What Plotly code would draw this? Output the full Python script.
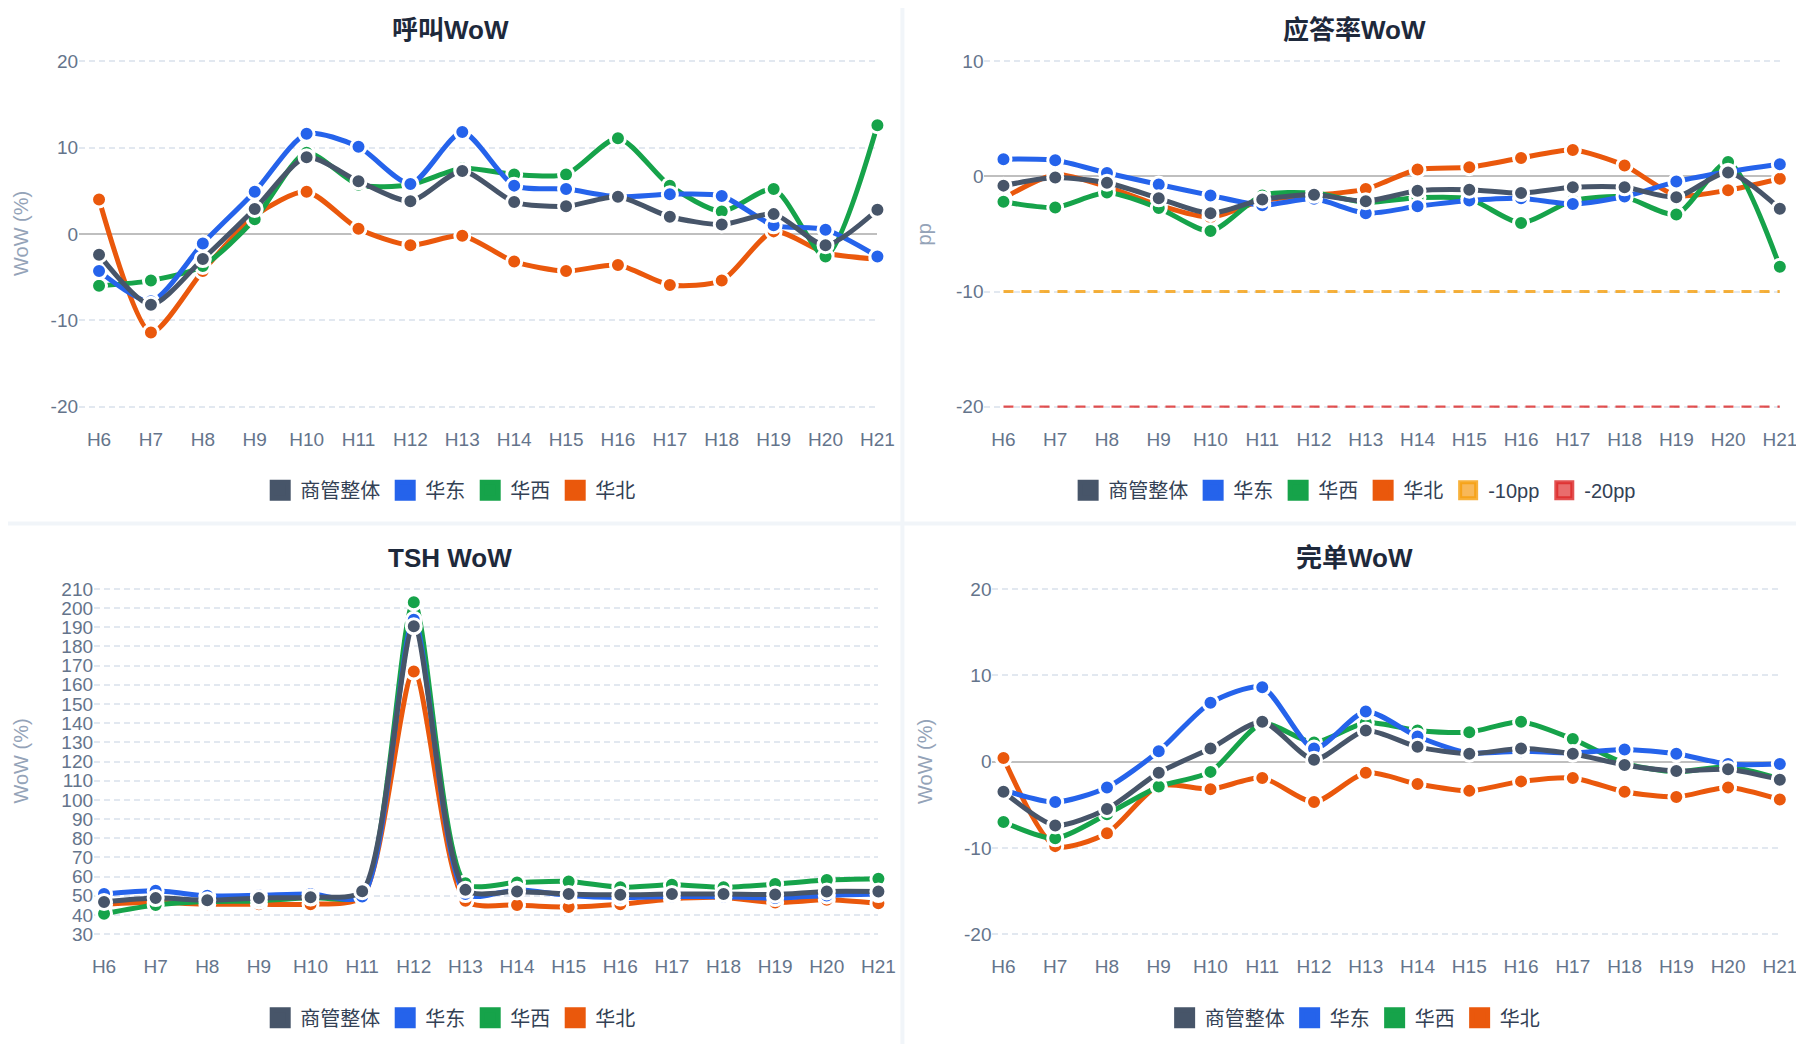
import plotly.graph_objects as go

W, H = 1804, 1044
# measured page placement of the figure: window px = offset + scale * figure px
OX, SX = 10.0, 0.989
OY, SY = 17.0, 0.979
FONT = "Liberation Sans, Noto Sans CJK SC, sans-serif"

hours = ["H6", "H7", "H8", "H9", "H10", "H11", "H12", "H13",
         "H14", "H15", "H16", "H17", "H18", "H19", "H20", "H21"]
series_names = ["商管整体", "华东", "华西", "华北"]
series_colors = ["#475569", "#2563eb", "#16a34a", "#ea580c"]

# 呼叫WoW (%)
call_total = [-2.4, -8.2, -2.9, 2.9, 8.9, 6.1, 3.8, 7.3, 3.7, 3.2, 4.3, 2.0, 1.1, 2.3, -1.3, 2.8]
call_east = [-4.3, -7.8, -1.1, 4.9, 11.6, 10.1, 5.8, 11.8, 5.6, 5.2, 4.3, 4.6, 4.4, 1.0, 0.5, -2.6]
call_west = [-6.0, -5.4, -3.7, 1.7, 9.4, 5.7, 5.7, 7.6, 6.9, 6.9, 11.1, 5.6, 2.6, 5.2, -2.6, 12.6]
call_north = [4.0, -11.4, -4.3, 2.1, 4.9, 0.6, -1.3, -0.2, -3.2, -4.3, -3.6, -5.9, -5.4, 0.3, -2.2, -2.9]
call_ticks = [-20, -10, 0, 10, 20]

# 应答率WoW (pp)
ans_total = [-0.8, -0.1, -0.55, -1.9, -3.2, -2.0, -1.6, -2.15, -1.25, -1.15, -1.45, -0.95, -0.95, -1.8, 0.35, -2.8]
ans_east = [1.5, 1.4, 0.3, -0.7, -1.65, -2.5, -1.95, -3.2, -2.6, -2.1, -1.9, -2.4, -1.75, -0.45, 0.4, 1.05]
ans_west = [-2.2, -2.7, -1.4, -2.75, -4.75, -1.65, -1.45, -2.25, -1.85, -1.95, -4.05, -2.1, -1.8, -3.3, 1.25, -7.85]
ans_north = [-1.9, 0.15, -0.9, -2.5, -3.55, -2.1, -1.65, -1.1, 0.6, 0.8, 1.6, 2.3, 0.95, -1.65, -1.2, -0.2]
ans_ticks = [-20, -10, 0, 10]
thresholds = [-10, -20]
threshold_names = ["-10pp", "-20pp"]

# TSH WoW (%)
tsh_total = [46.8, 48.8, 47.7, 48.8, 49.3, 52.4, 190.5, 53.1, 52.3, 51.0, 50.5, 50.9, 50.9, 50.7, 52.3, 52.3]
tsh_east = [50.9, 52.6, 50.0, 50.3, 50.9, 49.6, 193.9, 50.9, 53.1, 50.2, 49.1, 49.6, 49.5, 48.8, 50.2, 50.9]
tsh_west = [40.7, 45.2, 47.0, 47.4, 49.1, 50.5, 203.0, 56.5, 57.0, 57.5, 54.5, 55.8, 54.5, 56.1, 58.2, 58.9]
tsh_north = [45.6, 46.6, 45.6, 45.6, 45.6, 49.6, 166.9, 47.4, 45.2, 44.2, 45.6, 48.4, 49.1, 46.5, 47.9, 46.1]
tsh_ticks = [30, 40, 50, 60, 70, 80, 90, 100, 110, 120, 130, 140, 150, 160, 170, 180, 190, 200, 210]

# 完单WoW (%)
done_total = [-3.5, -7.4, -5.5, -1.3, 1.5, 4.6, 0.2, 3.6, 1.7, 0.9, 1.5, 0.9, -0.4, -1.1, -0.9, -2.1]
done_east = [-3.3, -4.7, -3.0, 1.2, 6.8, 8.6, 1.5, 5.8, 2.9, 1.0, 1.2, 1.0, 1.4, 0.9, -0.3, -0.3]
done_west = [-7.0, -8.9, -6.1, -2.9, -1.2, 4.4, 2.2, 4.5, 3.6, 3.4, 4.6, 2.6, -0.2, -1.2, -0.6, -2.0]
done_north = [0.4, -9.8, -8.3, -2.8, -3.2, -1.9, -4.7, -1.3, -2.6, -3.4, -2.3, -1.9, -3.5, -4.1, -3.0, -4.4]
done_ticks = [-20, -10, 0, 10, 20]


def fx(px):
    return (px - OX) / SX / W


def fy(py):
    return 1 - (py - OY) / SY / H


# panel boxes in window pixels: grid left, first point, last point / top tick, bottom tick
panels = [
    dict(title="呼叫WoW", ytitle="WoW (%)", data=[call_total, call_east, call_west, call_north],
         ticks=call_ticks, px=(79, 99, 877), py=(63, 406), cx=450, ty=32, ly=489, yt=21),
    dict(title="应答率WoW", ytitle="pp", data=[ans_total, ans_east, ans_west, ans_north],
         ticks=ans_ticks, px=(984, 1003, 1779), py=(63, 406), cx=1354, ty=32, ly=489, yt=924),
    dict(title="TSH WoW", ytitle="WoW (%)", data=[tsh_total, tsh_east, tsh_west, tsh_north],
         ticks=tsh_ticks, px=(94, 104, 878), py=(587, 930), cx=450, ty=556, ly=1013, yt=21),
    dict(title="完单WoW", ytitle="WoW (%)", data=[done_total, done_east, done_west, done_north],
         ticks=done_ticks, px=(992, 1003, 1779), py=(587, 930), cx=1354, ty=556, ly=1013, yt=924),
]

fig = go.Figure()
layout = {}
annotations = []
EDGE = 3  # px of room above/below the end ticks so their gridlines get drawn

for i, p in enumerate(panels):
    n = "" if i == 0 else str(i + 1)
    xa, ya, lg = "x" + n, "y" + n, "legend" + n
    g0, first, last = p["px"]
    step = (last - first) / (len(hours) - 1)
    top, bot = p["py"]
    t0, t1 = p["ticks"][0], p["ticks"][-1]
    pad = (t1 - t0) * EDGE / (bot - top)

    # lines, dark overall series drawn last so it sits on top
    for k in [3, 2, 1, 0]:
        fig.add_trace(go.Scatter(
            x=hours, y=p["data"][k], xaxis=xa, yaxis=ya,
            mode="lines+markers", name=series_names[k],
            legendgroup=lg + series_names[k], showlegend=False,
            line=dict(color=series_colors[k], width=5, shape="spline", smoothing=0.7),
            marker=dict(size=15, color=series_colors[k], line=dict(color="white", width=3)),
            cliponaxis=False,
        ))
    # legend entries (square icons)
    for k in range(4):
        fig.add_trace(go.Scatter(
            x=[None], y=[None], xaxis=xa, yaxis=ya, mode="markers",
            name=series_names[k], legend=lg, legendgroup=lg + series_names[k],
            marker=dict(symbol="square", size=16, color=series_colors[k],
                        line=dict(color=series_colors[k], width=5)),
        ))

    if i == 1:
        th_lines = ["rgba(245,158,11,0.8)", "rgba(220,38,38,0.8)"]
        th_fills = ["rgba(248,180,80,0.95)", "rgba(232,100,100,0.95)"]
        th_widths = [3, 2.2]
        for lvl, nm, c, fc, w in zip(thresholds, threshold_names, th_lines, th_fills, th_widths):
            fig.add_trace(go.Scatter(
                x=[hours[0], hours[-1]], y=[lvl, lvl], xaxis=xa, yaxis=ya,
                mode="lines", name=nm, legend=lg, legendgroup=lg + nm, showlegend=False,
                line=dict(color=c, width=w, dash="10px,8px"), hoverinfo="skip",
            ))
            fig.add_trace(go.Scatter(
                x=[None], y=[None], xaxis=xa, yaxis=ya, mode="markers",
                name=nm, legend=lg, legendgroup=lg + nm,
                marker=dict(symbol="square", size=16, color=fc, line=dict(color=c, width=4)),
            ))

    layout["xaxis" + n] = dict(
        domain=[fx(g0), fx(last)], anchor=ya, type="category",
        categoryorder="array", categoryarray=hours,
        range=[-(first - g0) / step, len(hours) - 1],
        showgrid=False, showline=False, zeroline=False, ticks="",
        ticklabelstandoff=19 - EDGE,
        tickfont=dict(family=FONT, size=19, color="#64748b"),
    )
    layout["yaxis" + n] = dict(
        domain=[fy(bot + EDGE), fy(top - EDGE)], anchor=xa,
        range=[t0 - pad, t1 + pad],
        tickmode="array", tickvals=p["ticks"], ticktext=[str(t) for t in p["ticks"]],
        showline=False, ticks="",
        gridcolor="#e2e8f0", griddash="6px,4px", gridwidth=1.5,
        zeroline=True, zerolinecolor="#bfbfbf", zerolinewidth=2,
        tickfont=dict(family=FONT, size=19, color="#64748b"),
    )
    layout[lg] = dict(
        orientation="h", x=fx(p["cx"]), xanchor="center",
        y=fy(p["ly"]), yanchor="middle",
        font=dict(family=FONT, size=20, color="#334155"),
        bgcolor="rgba(0,0,0,0)",
    )
    annotations.append(dict(
        text="<b>" + p["title"] + "</b>", xref="paper", yref="paper",
        x=fx(p["cx"]), y=fy(p["ty"]), showarrow=False,
        font=dict(family=FONT, size=26, color="#1e293b"),
        xanchor="center", yanchor="middle",
    ))
    annotations.append(dict(
        text=p["ytitle"], xref="paper", yref="paper", textangle=-90,
        x=fx(p["yt"]), y=fy((top + bot) / 2), showarrow=False,
        font=dict(family=FONT, size=20, color="#94a3b8"),
        xanchor="center", yanchor="middle",
    ))

# card dividers
shapes = [
    dict(type="rect", xref="paper", yref="paper", x0=fx(900), x1=fx(904), y0=-0.05, y1=1.05,
         fillcolor="#f1f5f9", line=dict(width=0), layer="below"),
    dict(type="rect", xref="paper", yref="paper", x0=-0.05, x1=1.05, y0=fy(524), y1=fy(520),
         fillcolor="#f1f5f9", line=dict(width=0), layer="below"),
]

fig.update_layout(
    width=W, height=H,
    margin=dict(l=0, r=0, t=0, b=0),
    paper_bgcolor="white", plot_bgcolor="white",
    font=dict(family=FONT),
    annotations=annotations, shapes=shapes,
    hovermode="closest",
    **layout,
)

fig.write_html("out.html")
